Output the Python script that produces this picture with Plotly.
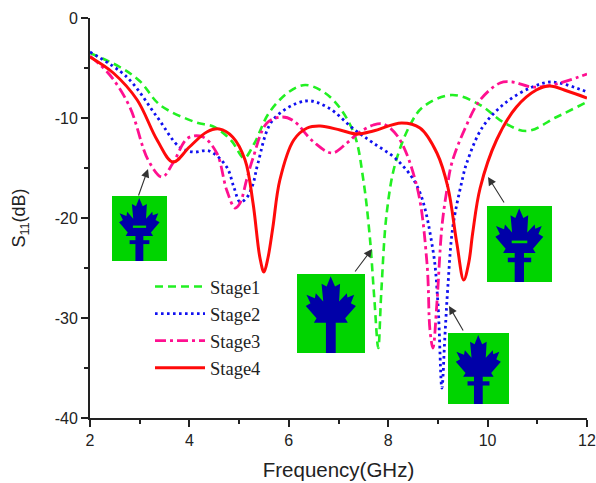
import plotly.graph_objects as go

W, H = 596, 483
L, R, T, B = 90, 587, 18, 418

stage1_f = [2, 2.6, 3.0, 3.41, 4.11, 4.5, 4.85, 5.1, 5.3, 5.6, 6.0, 6.33, 6.7, 7.03, 7.33, 7.5, 7.63, 7.72, 7.8, 7.86, 7.97, 8.14, 8.44, 8.7, 9.28, 9.85, 10.31, 10.79, 11.39, 12]
stage1_s = [-3.5, -4.9, -6.3, -8.7, -10.4, -10.9, -12.3, -14.0, -12.6, -9.5, -7.4, -6.7, -7.4, -9.0, -11.8, -16.2, -21.9, -28, -33, -27.5, -19.5, -14.6, -10.7, -8.9, -7.7, -8.7, -10.4, -11.3, -9.9, -8.4]

stage2_f = [2, 2.74, 3.35, 3.8, 4.07, 4.4, 4.75, 4.9, 5.02, 5.15, 5.28, 5.38, 5.68, 6.33, 6.77, 7.33, 7.7, 8.18, 8.6, 8.9, 9.0, 9.08, 9.14, 9.2, 9.3, 9.48, 9.58, 9.9, 10.38, 10.9, 11.3, 11.9, 12]
stage2_s = [-3.4, -5.9, -9.9, -12.9, -13.4, -13.3, -14.9, -17, -18.4, -18, -16.6, -14.5, -10.2, -8.3, -8.9, -11.2, -12.5, -14.2, -17, -23.2, -28.5, -37, -31.9, -26.9, -20.9, -16.4, -14.5, -10.9, -8.4, -6.9, -6.4, -7.2, -7.4]

stage3_f = [2, 2.4, 2.8, 3.17, 3.45, 3.67, 3.97, 4.27, 4.55, 4.75, 4.92, 5.02, 5.15, 5.28, 5.56, 5.87, 6.1, 6.5, 6.87, 7.17, 7.4, 7.7, 7.9, 8.2, 8.58, 8.78, 8.84, 8.9, 8.98, 9.08, 9.18, 9.28, 9.55, 9.85, 10.25, 10.5, 10.9, 11.3, 12]
stage3_s = [-3.8, -5.7, -8.9, -14.2, -15.9, -14.5, -12, -11.9, -13.5, -17.2, -19, -18.5, -16.2, -14.0, -10.5, -9.9, -10.3, -12.4, -13.5, -12.5, -11.5, -10.7, -10.6, -11.9, -16.9, -24.5, -31.2, -33, -28.5, -20.9, -17.2, -14.5, -11, -8.2, -6.5, -6.4, -6.9, -6.7, -5.6]

stage4_f = [2, 2.47, 2.95, 3.35, 3.67, 4, 4.35, 4.6, 4.87, 5.12, 5.28, 5.42, 5.5, 5.58, 5.68, 5.82, 6.1, 6.37, 6.63, 7.03, 7.37, 7.7, 8.27, 8.64, 8.98, 9.2, 9.38, 9.52, 9.62, 9.7, 9.85, 10.18, 10.58, 10.98, 11.25, 11.6, 12]
stage4_s = [-3.9, -5.5, -8.2, -12.2, -14.4, -12.9, -11.4, -11.1, -11.9, -14.2, -18.5, -24, -25.4, -24, -20.9, -16.2, -12.2, -11, -10.8, -11.2, -11.6, -11.3, -10.5, -11, -13.5, -16.9, -22.5, -26.2, -24.5, -21.5, -17, -12.2, -8.9, -7.2, -6.8, -7.3, -8.0]

names = ["Stage1", "Stage2", "Stage3", "Stage4"]
x_ticks = [2, 4, 6, 8, 10, 12]
y_ticks = [0, -10, -20, -30, -40]
y_labels = ["0", "-10", "-20", "-30", "-40"]

fig = go.Figure()
styles = [("#22F022", "8px,5px", 2.6), ("#1010F0", "2.6px,3.4px", 2.8), ("#FF1090", "11px,4px,3px,4px", 2.8), ("#FF0A0A", "solid", 3)]
for name, fx, sx, (c, d, w) in zip(names, [stage1_f, stage2_f, stage3_f, stage4_f],
                                   [stage1_s, stage2_s, stage3_s, stage4_s], styles):
    fig.add_trace(go.Scatter(x=fx, y=sx, name=name, mode="lines",
                             line=dict(color=c, dash=d, width=w, shape="spline", smoothing=1.0)))

def px(x):
    return (x - L) / (R - L)
def py(y):
    return 1 - (y - T) / (B - T)

LEAF = [(122,320),(135,350),(150,342),(147,395),(170,370),(172,383),(192,375),(182,400),(197,408),(165,445),(173,458),
        (137,458),(137,548),(108,548),(108,458),(72,458),(80,445),(48,408),(62,400),(50,375),(75,385),(78,370),(100,395),(95,342),(110,350)]
GREEN, NAVY = "#00D400", "#0000A8"
shapes = []
def rect(x0, y0, x1, y1, color):
    shapes.append(dict(type="rect", xref="paper", yref="paper", x0=px(x0), x1=px(x1), y0=py(y0), y1=py(y1),
                       fillcolor=color, line=dict(width=0), layer="above"))
def inset(x0, y0, x1, y1, slot=False, bar=False):
    w, h = x1 - x0, y1 - y0
    rect(x0, y0, x1, y1, GREEN)
    pts = [(x0 + (a - 22) / 202 * w, y0 + (b - 313) / 235 * h) for a, b in LEAF]
    path = "M" + " L".join(f"{px(a):.4f},{py(b):.4f}" for a, b in pts) + " Z"
    shapes.append(dict(type="path", xref="paper", yref="paper", path=path, fillcolor=NAVY, line=dict(width=0), layer="above"))
    if bar:
        rect(x0 + .32 * w, y0 + .68 * h, x1 - .32 * w, y0 + .74 * h, NAVY)
    if slot:
        rect(x0 + .38 * w, y0 + .455 * h, x1 - .38 * w, y0 + .49 * h, GREEN)
inset(112, 196, 167, 261, slot=True, bar=True)
inset(297, 274, 365, 353)
inset(448, 333, 509, 404, bar=True)
inset(487, 206, 552, 282, slot=True, bar=True)

ann = []
for x0, y0, x1, y1 in [(138, 197, 148, 169), (354, 273, 372, 249), (464, 332, 449, 306), (505, 204, 488, 177)]:
    ann.append(dict(xref="paper", yref="paper", x=px(x1), y=py(y1), ax=x0 - x1, ay=y0 - y1, text="", showarrow=True,
                    arrowhead=2, arrowsize=1.5, arrowwidth=1.1, arrowcolor="#333333"))

axis = dict(showline=True, linecolor="#222222", linewidth=2, ticks="outside", tickcolor="#222222", tickwidth=1.5,
            ticklen=7, showgrid=False, zeroline=False, automargin=False,
            tickfont=dict(family="Liberation Sans", size=16, color="#222222"),
            minor=dict(ticks="outside", ticklen=4, tickcolor="#222222", tickwidth=1.5))
fig.update_layout(
    width=W, height=H, autosize=False, margin=dict(l=L, r=W - R, t=T, b=H - B),
    paper_bgcolor="white", plot_bgcolor="white", shapes=shapes, annotations=ann,
    xaxis=dict(axis, range=[2, 12], tickvals=x_ticks, minor=dict(axis["minor"], tickvals=[3, 5, 7, 9, 11]),
               title=dict(text="Frequency(GHz)", font=dict(family="Liberation Sans", size=20.5, color="#222222"), standoff=14)),
    yaxis=dict(axis, range=[-40, 0], tickvals=y_ticks, ticktext=y_labels, minor=dict(axis["minor"], tickvals=[-5, -15, -25, -35]),
               title=dict(text="S<sub>11</sub>(dB)", font=dict(family="Liberation Sans", size=18, color="#222222"), standoff=24)),
    legend=dict(xref="paper", yref="paper", x=px(150), y=py(268), xanchor="left", yanchor="top",
                bgcolor="rgba(0,0,0,0)", font=dict(family="Liberation Serif", size=18.5, color="#222222"),
                itemwidth=50),
)
fig.write_html("out.html", post_script="document.body.style.margin='0';", config={"displayModeBar": False})
